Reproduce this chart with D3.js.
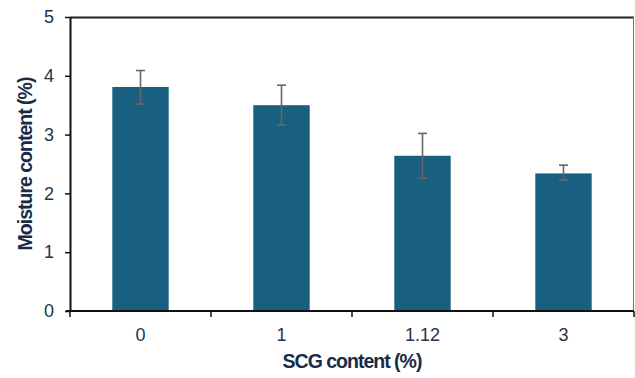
<!DOCTYPE html>
<html>
<head>
<meta charset="utf-8">
<script src="https://cdn.jsdelivr.net/npm/d3@7"></script>
<style>
  html, body { margin: 0; padding: 0; background: #fff; }
  svg { display: block; font-family: "Liberation Sans", Arial, sans-serif; }
</style>
</head>
<body>
<svg id="chart" width="635" height="378"></svg>
<script>
// Moisture content of samples by SCG content (mean ± SD)
const categories = ["0", "1", "1.12", "3"];
const moisture = [3.81, 3.50, 2.64, 2.34];
const errUpper = [0.28, 0.34, 0.38, 0.14];
const errLower = [0.29, 0.34, 0.38, 0.11];
const yTicks = [0, 1, 2, 3, 4, 5];

const svg = d3.select("#chart");
const margin = { left: 70, right: 1, top: 17, bottom: 67 };
const W = 635, H = 378;
const innerW = W - margin.left - margin.right;
const innerH = H - margin.top - margin.bottom;

const x = d3.scaleBand().domain(categories).range([0, innerW]).paddingInner(0.6).paddingOuter(0.3);
const y = d3.scaleLinear().domain([0, 5]).range([innerH, 0]);

const g = svg.append("g").attr("transform", `translate(${margin.left},${margin.top})`);

// frame: top and right border
g.append("line").attr("x1", 0).attr("x2", innerW).attr("y1", 0.5).attr("y2", 0.5)
  .attr("stroke", "#222").attr("stroke-width", 1.8);
g.append("line").attr("x1", innerW - 0.5).attr("x2", innerW - 0.5).attr("y1", 0).attr("y2", innerH)
  .attr("stroke", "#777").attr("stroke-width", 1);

// bars
g.selectAll("rect.bar").data(categories).join("rect")
  .attr("class", "bar")
  .attr("x", d => x(d))
  .attr("width", x.bandwidth())
  .attr("y", (d, i) => y(moisture[i]))
  .attr("height", (d, i) => innerH - y(moisture[i]))
  .attr("fill", "#185f80");

// error bars
const capW = 9;
const eb = g.selectAll("g.err").data(categories).join("g").attr("class", "err")
  .attr("transform", d => `translate(${x(d) + x.bandwidth() / 2},0)`);
eb.append("line").attr("x1", 0).attr("x2", 0)
  .attr("y1", (d, i) => y(moisture[i] + errUpper[i]))
  .attr("y2", (d, i) => y(moisture[i] - errLower[i]))
  .attr("stroke", "#666").attr("stroke-width", 1.6);
eb.append("line").attr("x1", -capW / 2).attr("x2", capW / 2)
  .attr("y1", (d, i) => y(moisture[i] + errUpper[i]))
  .attr("y2", (d, i) => y(moisture[i] + errUpper[i]))
  .attr("stroke", "#666").attr("stroke-width", 1.6);
eb.append("line").attr("x1", -capW / 2).attr("x2", capW / 2)
  .attr("y1", (d, i) => y(moisture[i] - errLower[i]))
  .attr("y2", (d, i) => y(moisture[i] - errLower[i]))
  .attr("stroke", "#666").attr("stroke-width", 1.6);

// y axis
const yAxis = g.append("g")
  .call(d3.axisLeft(y).tickValues(yTicks).tickFormat(d3.format("d")).tickSize(5).tickSizeOuter(0).tickPadding(11));
yAxis.select(".domain").attr("stroke", "#111").attr("stroke-width", 2);
yAxis.selectAll(".tick line").attr("stroke", "#111").attr("stroke-width", 1.5);
yAxis.selectAll(".tick text").attr("fill", "#243447").attr("font-size", 18)
  .attr("font-family", "Liberation Sans, Arial, sans-serif");

// x axis: ticks at category boundaries
const xBoundaryTicks = d3.range(categories.length + 1).map(i => i * x.step());
const xAxisG = g.append("g").attr("transform", `translate(0,${innerH})`);
xAxisG.append("line").attr("x1", -4).attr("x2", innerW).attr("y1", 0).attr("y2", 0)
  .attr("stroke", "#111").attr("stroke-width", 2);
xAxisG.selectAll("line.tk").data(xBoundaryTicks).join("line").attr("class", "tk")
  .attr("x1", d => d).attr("x2", d => d).attr("y1", 0).attr("y2", 6)
  .attr("stroke", "#111").attr("stroke-width", 1.5);
xAxisG.selectAll("text.lbl").data(categories).join("text").attr("class", "lbl")
  .attr("x", d => x(d) + x.bandwidth() / 2)
  .attr("y", 30)
  .attr("text-anchor", "middle")
  .attr("fill", "#243447").attr("font-size", 18)
  .text(d => d);

// axis titles
svg.append("text")
  .attr("transform", `translate(32,${margin.top + innerH / 2}) rotate(-90)`)
  .attr("text-anchor", "middle")
  .attr("font-weight", "bold").attr("font-size", 19.5).attr("letter-spacing", -1)
  .attr("fill", "#182c47")
  .text("Moisture content (%)");
svg.append("text")
  .attr("x", margin.left + innerW / 2)
  .attr("y", 368)
  .attr("text-anchor", "middle")
  .attr("font-weight", "bold").attr("font-size", 19.5).attr("letter-spacing", -1)
  .attr("fill", "#182c47")
  .text("SCG content (%)");
</script>
</body>
</html>
